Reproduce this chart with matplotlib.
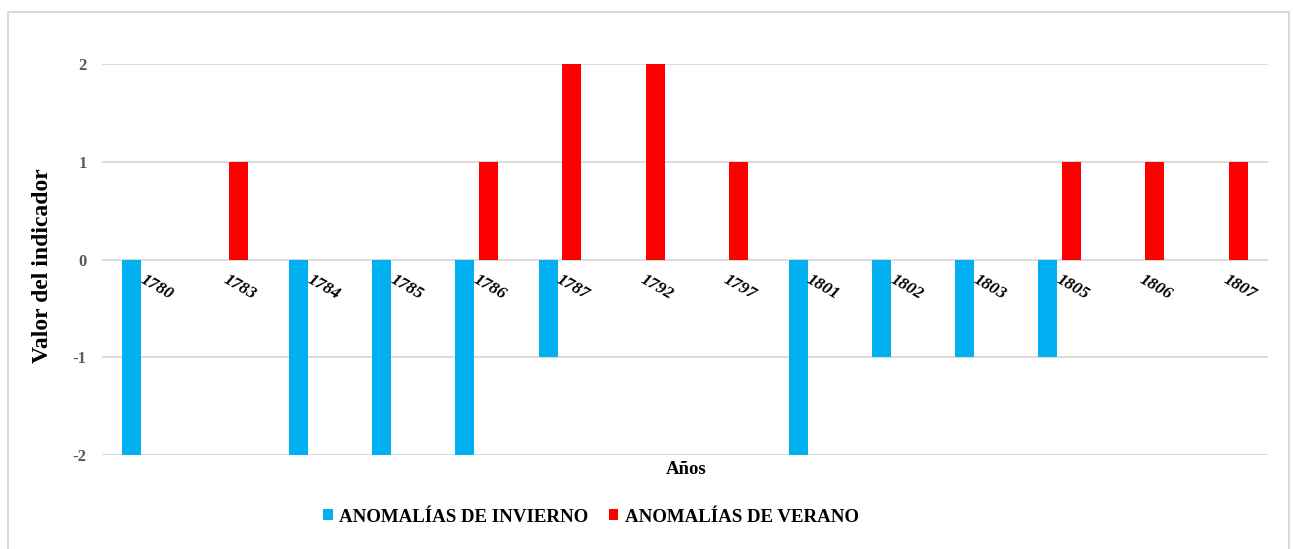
import matplotlib
matplotlib.use("Agg")
import matplotlib.pyplot as plt
import matplotlib.transforms as mtransforms
from matplotlib.patches import Rectangle, Patch
import numpy as np

years = ["1780", "1783", "1784", "1785", "1786", "1787", "1792", "1797",
         "1801", "1802", "1803", "1805", "1806", "1807"]
winter = [-2, 0, -2, -2, -2, -1, 0, 0, -2, -1, -1, -1, 0, 0]
summer = [0, 1, 0, 0, 1, 2, 2, 1, 0, 0, 0, 1, 1, 1]
yticks = [-2, -1, 0, 1, 2]
series_names = ["ANOMALÍAS DE INVIERNO", "ANOMALÍAS DE VERANO"]

BLUE = "#00B0F0"
RED = "#FF0000"
GRID = "#D9D9D9"
SERIF = "Liberation Serif"

W, H = 1293, 549
fig = plt.figure(figsize=(W / 100, H / 100), dpi=100)
ax = fig.add_axes([102 / W, 1 - 455 / H, (1268 - 102) / W, (455 - 64) / H])

x = np.arange(len(years))
bw = 0.228
off = 0.142
ax.bar(x - off, winter, width=bw, color=BLUE, zorder=3)
ax.bar(x + off, summer, width=bw, color=RED, zorder=3)

ax.set_xlim(-0.5, len(years) - 0.5)
ax.set_ylim(-2, 2)
ax.set_yticks(yticks)
ax.set_yticklabels([str(v) for v in yticks], fontfamily=SERIF,
                   fontweight="bold", fontsize=12, color="#595959")
ax.tick_params(axis="y", length=0, pad=11)
ax.set_xticks([])
ax.grid(axis="y", color=GRID, linewidth=1.3, zorder=0)
ax.set_axisbelow(True)
for s in ax.spines.values():
    s.set_visible(False)

# category labels at y=0, rotated
offset = mtransforms.ScaledTranslation(2 / 100, -12 / 100, fig.dpi_scale_trans)
for xi, lab in zip(x, years):
    ax.text(xi, 0, lab, transform=ax.transData + offset, rotation=-30,
            rotation_mode="anchor", ha="left", va="top",
            fontfamily=SERIF, fontweight="bold", fontstyle="italic",
            fontsize=12.5, color="black", zorder=5)

fig.text(42.5 / W, 1 - 265.5 / H, "Valor del indicador", rotation=90,
         ha="center", va="center", fontfamily=SERIF, fontweight="bold",
         fontsize=17, color="black")
fig.text(686 / W, 1 - 470 / H, "Años", ha="center", va="center",
         fontfamily=SERIF, fontweight="bold", fontsize=13.5, color="black")

handles = [Patch(facecolor=BLUE, edgecolor="none"),
           Patch(facecolor=RED, edgecolor="none")]
fig.legend(handles, series_names, loc="center", ncol=2,
           bbox_to_anchor=(591 / W, 1 - 517 / H), frameon=False,
           prop={"family": SERIF, "weight": "bold", "size": 13.6},
           handlelength=0.5, handleheight=0.5, handletextpad=0.33,
           columnspacing=1.1)

fig.patches.append(Rectangle((8 / W, -0.05), (1289 - 8) / W, 1.05 - 12 / H,
                             transform=fig.transFigure, fill=False,
                             edgecolor=GRID, linewidth=1.5))

fig.savefig("out.png", dpi=100, facecolor="white")
